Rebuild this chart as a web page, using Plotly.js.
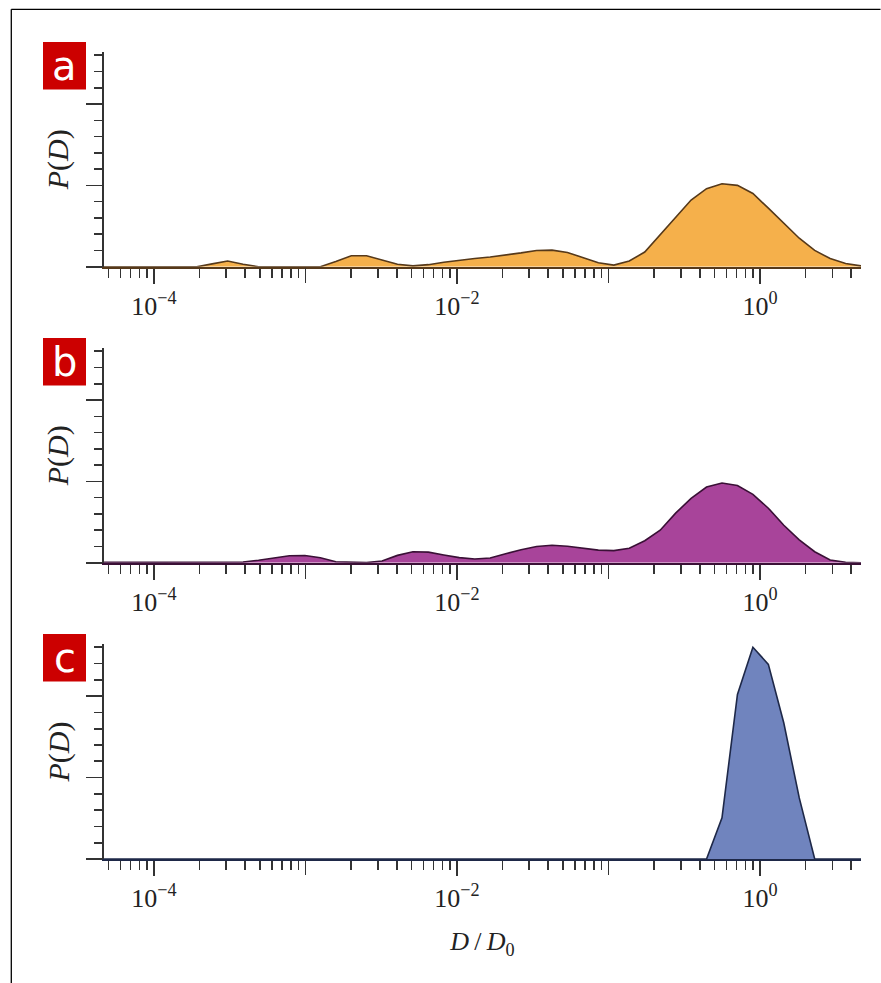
<!DOCTYPE html>
<html>
<head>
<meta charset="utf-8">
<script src="https://cdn.plot.ly/plotly-3.0.1.min.js"></script>
<style>html,body{margin:0;padding:0;background:#fff;}#chart{width:881px;height:983px;}</style>
</head>
<body>
<div id="chart"></div>
<script>
// log10(D/D0) grid shared by all three panels
const logD = [-4.330, -4.228, -4.126, -4.024, -3.922, -3.820, -3.718, -3.616, -3.514, -3.412,
              -3.310, -3.208, -3.106, -3.004, -2.902, -2.800, -2.698, -2.597, -2.495, -2.393,
              -2.291, -2.189, -2.087, -1.985, -1.883, -1.781, -1.679, -1.577, -1.475, -1.373,
              -1.271, -1.169, -1.067, -0.965, -0.863, -0.761, -0.659, -0.557, -0.455, -0.353,
              -0.251, -0.149, -0.047, 0.055, 0.157, 0.259, 0.361, 0.463, 0.565, 0.6665];

const pA = [0, 0, 0, 0, 0, 0, 0, 0.035, 0.07, 0.03,
            0, 0, 0, 0, 0, 0.065, 0.135, 0.135, 0.085, 0.03,
            0.01, 0.025, 0.055, 0.08, 0.10, 0.119, 0.14, 0.17, 0.20, 0.204,
            0.175, 0.11, 0.049, 0.02, 0.07, 0.18, 0.39, 0.61, 0.82, 0.96,
            1.02, 1.0, 0.90, 0.72, 0.53, 0.35, 0.20, 0.10, 0.04, 0.01];

const pB = [0.005, 0.005, 0.005, 0.004, 0.004, 0.003, 0.003, 0.003, 0.004, 0.008,
            0.03, 0.06, 0.085, 0.088, 0.06, 0.012, 0.003, 0.003, 0.02, 0.09,
            0.135, 0.13, 0.095, 0.062, 0.045, 0.058, 0.11, 0.16, 0.20, 0.215,
            0.203, 0.18, 0.155, 0.148, 0.178, 0.27, 0.40, 0.61, 0.79, 0.93,
            0.98, 0.95, 0.84, 0.67, 0.46, 0.28, 0.135, 0.033, 0.005, 0];

const pC = [0, 0, 0, 0, 0, 0, 0, 0, 0, 0,
            0, 0, 0, 0, 0, 0, 0, 0, 0, 0,
            0, 0, 0, 0, 0, 0, 0, 0, 0, 0,
            0, 0, 0, 0, 0, 0, 0, 0, 0, 0,
            0.505, 2.02, 2.60, 2.39, 1.67, 0.75, 0, 0, 0, 0];

const panelLabels = ['a', 'b', 'c'];
const labelTickVals = [1e-4, 1e-2, 1];
const labelTickText = ['10<sup>\u22124</sup>', '10<sup>\u22122</sup>', '10<sup>0</sup>'];
const unlabelledDecades = [1e-3, 1e-1];
const minorDigits = [2, 3, 4, 5, 6, 7, 8, 9];
const minorDecades = [1e-5, 1e-4, 1e-3, 1e-2, 1e-1, 1];

const fillColors = ['#F5B04B', '#A8449A', '#7084BE'];
const lineColors = ['#56391A', '#3A1036', '#1E2848'];
const serif = 'Liberation Serif, DejaVu Serif, serif';

const D = logD.map(v => Math.pow(10, v));
const minorVals = [];
minorDecades.forEach(d => minorDigits.forEach(m => minorVals.push(m * d)));

const series = [pA, pB, pC];
const traces = series.map((p, i) => ({
  x: D, y: p, type: 'scatter', mode: 'lines', fill: 'tozeroy',
  fillcolor: fillColors[i], line: {color: lineColors[i], width: 1.6},
  xaxis: i === 0 ? 'x' : 'x' + (i + 1), yaxis: i === 0 ? 'y' : 'y' + (i + 1),
  hoverinfo: 'skip', showlegend: false
}));
// empty helper traces so the overlay tick axes exist
for (let i = 0; i < 3; i++) {
  traces.push({x: [], y: [], type: 'scatter', mode: 'lines', xaxis: 'x' + (i + 4),
    yaxis: i === 0 ? 'y' : 'y' + (i + 1), showlegend: false, hoverinfo: 'skip'});
}

const H = 807, T = 52;
const py = v => 1 - (v - T) / H;       // pixel -> paper y
const px = v => (v - 104) / 757;       // pixel -> paper x
const panelTop = [52, 348, 644];
const panelBot = [266.7, 562.7, 859.3];

const layout = {
  width: 881, height: 983,
  margin: {l: 104, r: 20, t: 52, b: 124},
  paper_bgcolor: '#fff', plot_bgcolor: 'rgba(0,0,0,0)',
  showlegend: false,
  shapes: [], annotations: []
};

const xRange = [logD[0], logD[logD.length - 1]];
for (let i = 0; i < 3; i++) {
  const sx = i === 0 ? '' : String(i + 1);
  layout['xaxis' + sx] = {
    type: 'log', range: xRange, domain: [0, 1],
    anchor: 'y' + sx, showline: true, linecolor: lineColors[i], linewidth: 2,
    showgrid: false, zeroline: false, layer: 'below traces',
    ticks: 'outside', ticklen: 15, tickwidth: 1.6, tickcolor: '#333',
    tickmode: 'array', tickvals: labelTickVals, ticktext: labelTickText,
    tickfont: {family: serif, size: 26, color: '#222'},
    minor: {tickmode: 'array', tickvals: minorVals, ticks: 'outside', ticklen: 9, tickwidth: 1.6, tickcolor: '#333', showgrid: false},
    fixedrange: true
  };
  if (i === 2) {
    layout['xaxis' + sx].title = {text: '<i>D</i>\u2009/\u2009<i>D</i><sub>0</sub>',
      font: {family: serif, size: 26, color: '#222'}, standoff: 20};
  }
  // overlay axis carrying the unlabelled decade ticks
  layout['xaxis' + (i + 4)] = {
    type: 'log', range: xRange, domain: [0, 1], overlaying: 'x' + sx, anchor: 'y' + sx, side: 'bottom',
    showline: false, showgrid: false, zeroline: false,
    ticks: 'outside', ticklen: 15, tickwidth: 1.6, tickcolor: '#333',
    tickmode: 'array', tickvals: unlabelledDecades, showticklabels: false, fixedrange: true
  };
  layout['yaxis' + sx] = {
    range: [0, 2.64], domain: [py(panelBot[i]), py(panelTop[i])],
    anchor: 'x' + sx, showline: true, linecolor: '#333', linewidth: 2,
    showgrid: false, zeroline: false,
    ticks: 'outside', ticklen: 16, tickwidth: 1.6, tickcolor: '#333',
    tickmode: 'linear', tick0: 0, dtick: 1, showticklabels: false,
    minor: {tickmode: 'linear', tick0: 0, dtick: 0.2, ticks: 'outside', ticklen: 8, tickwidth: 1.6, tickcolor: '#333', showgrid: false},
    title: {text: '<i>P</i>(<i>D</i>)', font: {family: serif, size: 30, color: '#222'}, standoff: 8},
    fixedrange: true
  };
  // red panel label box
  const boxTop = panelTop[i] - 10, boxBot = boxTop + 47.5;
  layout.shapes.push({type: 'rect', xref: 'paper', yref: 'paper',
    x0: px(43), x1: px(86), y0: py(boxBot), y1: py(boxTop),
    fillcolor: '#CC0000', line: {width: 0}, layer: 'above'});
  layout.annotations.push({xref: 'paper', yref: 'paper', x: px(64.5), y: py((boxTop + boxBot) / 2),
    xanchor: 'center', yanchor: 'middle', text: panelLabels[i], showarrow: false,
    font: {family: 'DejaVu Sans, sans-serif', size: 40, color: '#fff'}});
}

// outer frame (top and left edges visible)
layout.shapes.push({type: 'line', xref: 'paper', yref: 'paper', x0: px(11.3), x1: px(880.5), y0: py(9.3), y1: py(9.3), line: {color: '#000', width: 1.3}});
layout.shapes.push({type: 'line', xref: 'paper', yref: 'paper', x0: px(11.3), x1: px(11.3), y0: py(9.3), y1: py(990), line: {color: '#000', width: 1.3}});

Plotly.newPlot('chart', traces, layout, {displayModeBar: false, staticPlot: true});
</script>
</body>
</html>
